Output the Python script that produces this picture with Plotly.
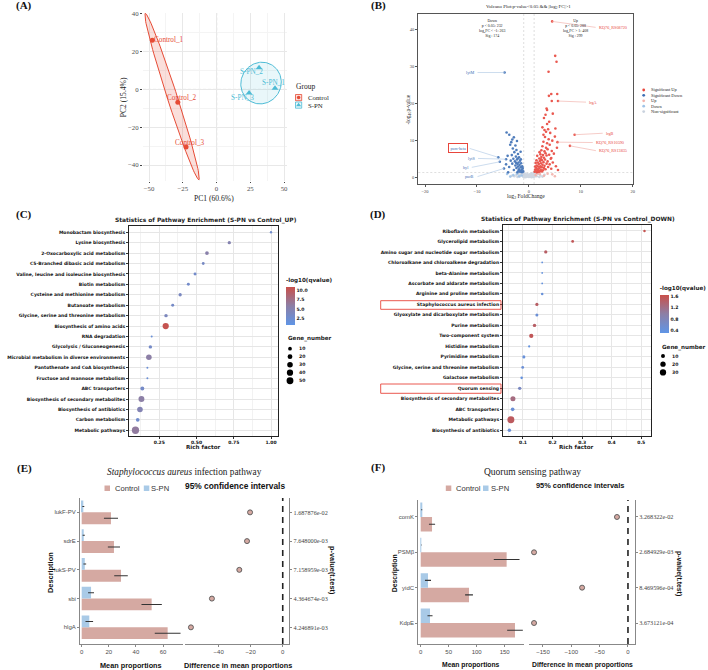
import numpy as np
import plotly.graph_objects as go

W, H = 708, 670
SERIF = "Liberation Serif"
SANS = "Liberation Sans"
DJV = "DejaVu Sans"

# ======================= DATA =======================
# (A) PCA
pca_samples = ["Control_1", "Control_2", "Control_3", "S-PN_1", "S-PN_2", "S-PN_3"]
pca_group = ["Control", "Control", "Control", "S-PN", "S-PN", "S-PN"]
pca_pc1 = [-47.6, -28.7, -22.6, 43.3, 31.5, 24.1]
pca_pc2 = [26.1, -6.8, -30.5, 0.6, 11.5, -1.9]
pca_xticks = [-50, -25, 0, 25, 50]
pca_yticks = [-40, -20, 0, 20, 40]

# (B) Volcano (log2FC, -log10 p)
sig_up_x = [1.1, 1.2, 1.3, 1.4, 1.5, 1.5, 1.6, 1.7, 1.8, 1.8, 1.9, 2.0, 2.0, 2.1, 2.1, 2.2, 2.2, 2.3, 2.3, 2.4,
            2.4, 2.5, 2.5, 2.6, 2.6, 2.7, 2.7, 2.8, 2.8, 2.9, 2.9, 3.0, 3.0, 3.1, 3.1, 3.2, 3.2, 3.3, 3.3, 3.4,
            3.4, 3.5, 3.5, 3.6, 3.6, 3.7, 3.8, 3.9, 4.0, 4.0, 4.1, 4.2, 4.3, 4.4, 4.5, 4.6, 4.8, 5.0, 5.2, 5.4,
            5.6, 5.1, 4.3, 5.5, 7.9, 8.8, 3.4, 3.5, 3.2, 2.9, 4.4, 5.6, 4.3, 5.45, 3.85, 3.78, 5.06, 5.32, 4.48,
            2.6, 3.0, 2.8, 3.9, 4.6, 3.7, 1.3, 1.6, 1.9, 2.2, 2.5, 1.2, 1.45, 1.75, 2.05, 2.35]
sig_up_y = [1.5, 2.1, 1.8, 2.6, 1.4, 3.2, 2.2, 4.0, 1.7, 2.9, 3.6, 2.4, 5.1, 1.6, 4.4, 3.0, 6.2, 2.0, 3.8, 5.5,
            7.3, 2.7, 4.6, 3.4, 8.4, 1.9, 6.0, 4.1, 9.6, 2.5, 5.3, 7.0, 3.1, 10.9, 4.8, 6.5, 2.2, 8.0, 12.3, 3.7,
            5.9, 9.2, 14.4, 4.3, 7.6, 2.8, 10.3, 6.1, 3.5, 8.8, 12.0, 5.0, 2.3, 7.1, 9.9, 4.0, 6.4, 11.0, 3.0, 8.0,
            2.0, 13.2, 5.2, 9.5, 8.5, 11.5, 18.6, 18.2, 16.9, 16.0, 20.6, 20.6, 22.5, 22.5, 22.0, 28.5, 32.8, 31.2, 42.1,
            13.5, 12.8, 11.5, 15.0, 17.2, 13.0, 3.9, 5.8, 1.5, 2.8, 1.6, 2.9, 4.6, 2.0, 6.8, 4.9]
sig_dn_x = [-1.1, -1.2, -1.3, -1.3, -1.4, -1.5, -1.5, -1.6, -1.7, -1.7, -1.8, -1.9, -1.9, -2.0, -2.0, -2.1, -2.1,
            -2.2, -2.3, -2.3, -2.4, -2.4, -2.5, -2.6, -2.6, -2.7, -2.8, -2.9, -2.9, -3.0, -3.1, -3.2, -3.2, -3.3,
            -3.5, -3.6, -3.78, -3.8, -4.0, -4.1, -4.3, -4.4, -5.9, -4.4, -5.6, -4.8, -4.68, -1.6, -2.2, -3.4,
            -1.25, -1.55, -1.85, -2.15, -2.45]
sig_dn_y = [1.6, 2.3, 1.4, 3.0, 2.0, 3.8, 1.7, 2.7, 4.5, 1.5, 3.3, 2.2, 5.4, 4.0, 1.8, 2.9, 6.3,
            3.6, 4.8, 9.8, 2.5, 7.4, 5.6, 3.2, 8.6, 4.3, 6.8, 10.8, 2.0, 5.0, 7.8, 10.2, 3.7, 6.0,
            4.5, 8.8, 11.5, 2.8, 1.35, 5.8, 12.1, 3.5, 5.4, 4.9, 4.2, 2.4, 28.3, 6.9, 1.4, 9.5,
            2.6, 4.9, 1.9, 5.1, 3.9]
up_x = [1.3, 2.1, 2.9, 3.6, 4.5, 5.0, 1.7]
up_y = [0.6, 0.9, 0.4, 1.0, 0.8, 0.3, 1.1]
dn_x = [-1.4, -2.3, -3.0, -3.6, -4.2, -1.9]
dn_y = [0.5, 1.0, 0.6, 0.2, 0.9, 0.3]
ns_x = [-2.8, -2.4, -2.0, -1.8, -1.5, -1.2, -1.0, -0.9, -0.8, -0.7, -0.6, -0.5, -0.4, -0.3, -0.2, -0.1, 0.0,
        0.1, 0.2, 0.3, 0.4, 0.5, 0.6, 0.7, 0.8, 0.9, 1.0, 1.2, 1.5, 1.8, 2.2, 2.6, 3.0, -3.3, 0.5, -0.6, 1.6,
        -1.6, 2.0, -2.2, -0.35, 0.35, -0.75, 0.75, -1.1, 1.1]
ns_y = [0.3, 0.6, 0.9, 0.2, 1.1, 0.5, 0.8, 0.2, 1.0, 0.4, 0.7, 0.1, 0.5, 0.9, 0.3, 0.6, 0.1,
        0.4, 0.8, 0.2, 0.6, 1.0, 0.3, 0.7, 0.1, 1.2, 0.4, 0.8, 0.3, 0.9, 0.5, 0.2, 0.7, 0.4, 0.05, 0.15, 1.1,
        0.7, 0.1, 0.1, 0.25, 0.3, 0.05, 0.5, 0.15, 0.2]
volc_up_genes = ["KQ76_RS08720", "lrgA", "lrgB", "KQ76_RS10590", "KQ76_RS13835"]
volc_up_gx = [4.48, 5.6, 8.8, 5.5, 7.9]
volc_up_gy = [42.1, 20.6, 11.5, 9.5, 8.5]
volc_dn_genes = ["lytM", "psm-beta", "lytS", "hyl", "purB"]
volc_dn_gx = [-4.68, -5.9, -4.4, -5.6, -4.8]
volc_dn_gy = [28.3, 5.4, 4.9, 4.2, 2.4]
volc_xticks = [-20, -10, 0, 10, 20]
volc_yticks = [0, 10, 20, 30, 40]

# (C) KEGG enrichment, UP
c_terms = ["Monobactam biosynthesis", "Lysine biosynthesis", "2-Oxocarboxylic acid metabolism",
           "C5-Branched dibasic acid metabolism", "Valine, leucine and isoleucine biosynthesis",
           "Biotin metabolism", "Cysteine and methionine metabolism", "Butanoate metabolism",
           "Glycine, serine and threonine metabolism", "Biosynthesis of amino acids", "RNA degradation",
           "Glycolysis / Gluconeogenesis", "Microbial metabolism in diverse environments",
           "Pantothenate and CoA biosynthesis", "Fructose and mannose metabolism", "ABC transporters",
           "Biosynthesis of secondary metabolites", "Biosynthesis of antibiotics", "Carbon metabolism",
           "Metabolic pathways"]
c_rich = [1.0, 0.72, 0.57, 0.545, 0.49, 0.445, 0.39, 0.34, 0.295, 0.293, 0.199, 0.19, 0.18, 0.17, 0.17,
          0.136, 0.13, 0.12, 0.105, 0.09]
c_genes = [2, 7, 10, 4, 5, 5, 7, 5, 8, 40, 1, 8, 30, 1, 1, 12, 35, 30, 10, 58]
c_q = [2.8, 5.0, 5.5, 3.5, 3.0, 3.0, 3.8, 3.2, 4.0, 10.5, 2.0, 3.2, 5.8, 2.2, 2.2, 3.2, 5.8, 4.8, 2.8, 6.2]
c_xticks = [0.25, 0.50, 0.75, 1.00]
c_cbar_ticks = [2.5, 5.0, 7.5, 10.0]
c_size_legend = [10, 20, 30, 40, 50]

# (D) KEGG enrichment, DOWN
d_terms = ["Riboflavin metabolism", "Glycerolipid metabolism", "Amino sugar and nucleotide sugar metabolism",
           "Chloroalkane and chloroalkene degradation", "beta-Alanine metabolism",
           "Ascorbate and aldarate metabolism", "Arginine and proline metabolism",
           "Staphylococcus aureus infection", "Glyoxylate and dicarboxylate metabolism", "Purine metabolism",
           "Two-component system", "Histidine metabolism", "Pyrimidine metabolism",
           "Glycine, serine and threonine metabolism", "Galactose metabolism", "Quorum sensing",
           "Biosynthesis of secondary metabolites", "ABC transporters", "Metabolic pathways",
           "Biosynthesis of antibiotics"]
d_rich = [0.511, 0.268, 0.177, 0.165, 0.165, 0.165, 0.165, 0.147, 0.147, 0.139, 0.128, 0.121, 0.103,
          0.099, 0.0955, 0.089, 0.066, 0.065, 0.059, 0.054]
d_genes = [3, 4, 6, 1, 1, 1, 3, 6, 5, 7, 12, 2, 5, 4, 3, 7, 18, 8, 38, 7]
d_q = [1.6, 1.55, 1.45, 0.4, 0.4, 0.4, 0.45, 1.45, 0.5, 1.45, 1.55, 0.4, 0.45, 0.5, 0.4, 0.7, 1.25, 0.5,
       1.5, 0.5]
d_xticks = [0.1, 0.2, 0.3, 0.4, 0.5]
d_cbar_ticks = [0.4, 0.8, 1.2, 1.6]
d_size_legend = [10, 20, 30]

# (E) Staphylococcus aureus infection pathway
e_genes = ["lukF-PV", "sdrE", "lukS-PV", "sbi", "hlgA"]
e_ctrl = [21.6, 23.8, 29.0, 51.6, 63.4]
e_ctrl_err = [5.2, 4.5, 5.0, 7.5, 9.5]
e_spn = [1.2, 1.5, 2.3, 6.9, 5.6]
e_spn_err = [0.7, 0.8, 1.0, 2.2, 2.8]
e_diff = [-20.4, -22.3, -27.1, -44.2, -57.3]
e_p = ["1.687876e-02", "7.648000e-03", "7.158959e-03", "4.364674e-03", "4.246891e-03"]
e_xticks = [0, 20, 40, 60]
e_dticks = [-40, -20, 0]

# (F) Quorum sensing pathway
f_genes = ["comK", "PSMβ", "yidC", "KdpE"]
f_ctrl = [20.2, 153.5, 86.3, 168.4]
f_ctrl_err = [5.5, 23.0, 7.0, 14.0]
f_spn = [1.8, 1.0, 13.0, 16.6]
f_spn_err = [1.0, 0.5, 5.4, 4.5]
f_diff = [-19.4, -165.8, -81.0, -165.8]
f_p = ["3.268322e-02", "2.684929e-03", "8.469596e-04", "3.673121e-04"]
f_xticks = [0, 50, 100, 150]
f_dticks = [-150, -100, -50, 0]

# ======================= STYLE HELPERS =======================
RED = "#E64B35"
BLUE = "#4DBBD5"
CTRL_BAR = "#D5A9A2"
SPN_BAR = "#A9CAE7"
CSCALE = [[0, "#5F95E6"], [0.5, "#8C7FA6"], [1, "#C9504A"]]


def px(x):
    return x / W


def py(y):
    return 1 - y / H


def base_axis(**kw):
    d = dict(automargin=False, showgrid=False, zeroline=False, showline=False, ticks="",
             fixedrange=True)
    d.update(kw)
    return d


def ellipse(xs, ys, k=1.55, n=120):
    X = np.column_stack([xs, ys])
    mu = X.mean(axis=0)
    vals, vecs = np.linalg.eigh(np.cov(X.T))
    t = np.linspace(0, 2 * np.pi, n)
    circ = np.column_stack([np.cos(t), np.sin(t)]) * (k * np.sqrt(np.maximum(vals, 0)))
    pts = mu + circ @ vecs.T
    return pts[:, 0], pts[:, 1]


def size_c(g):
    return 1.2 + 0.8 * np.sqrt(g)


def size_d(g):
    return 0.8 + 1.0 * np.sqrt(g)


fig = go.Figure()
ann = []
shapes = []


def text(x, y, s, size, family=SANS, color="#000", xanchor="center", yanchor="middle", angle=0, bold=False):
    ann.append(dict(x=px(x), y=py(y), xref="paper", yref="paper", text=s, showarrow=False,
                    xanchor=xanchor, yanchor=yanchor, textangle=angle,
                    font=dict(family=family, size=size, color=color, weight="bold" if bold else "normal")))


# ======================= (A) PCA =======================
for grp, col, fill in [("Control", RED, "rgba(230,75,53,0.18)"), ("S-PN", BLUE, "rgba(77,187,213,0.12)")]:
    xs = [x for x, g in zip(pca_pc1, pca_group) if g == grp]
    ys = [y for y, g in zip(pca_pc2, pca_group) if g == grp]
    ex, ey = ellipse(xs, ys)
    fig.add_trace(go.Scatter(x=ex, y=ey, mode="lines", fill="toself", fillcolor=fill,
                             line=dict(color=col, width=1), xaxis="x", yaxis="y", showlegend=False,
                             hoverinfo="skip"))
    fig.add_trace(go.Scatter(x=xs, y=ys, mode="markers", xaxis="x", yaxis="y", showlegend=False,
                             marker=dict(color=col, size=5 if grp == "Control" else 6,
                                         symbol="circle" if grp == "Control" else "triangle-up")))

label_shift = [(16.6, 0), (4.3, 4.3), (4.0, 3.7), (-1.8, 5), (-7.1, -4.3), (-6.6, -5)]
for s, x, y, g, (dx, dy) in zip(pca_samples, pca_pc1, pca_pc2, pca_group, label_shift):
    ann.append(dict(x=x, y=y, xref="x", yref="y", text=s, showarrow=False, xshift=dx, yshift=dy,
                    font=dict(family=SERIF, size=7.2, color=RED if g == "Control" else BLUE)))

shapes += [
    dict(type="line", xref="x", yref="y domain", x0=0, x1=0, y0=0, y1=1,
         line=dict(color="#444", width=0.8, dash="3px,2px"), layer="below"),
    dict(type="line", xref="x domain", yref="y", x0=0, x1=1, y0=0, y1=0,
         line=dict(color="#444", width=0.8, dash="3px,2px"), layer="below"),
]
a_tick = dict(family=SERIF, size=6.8, color="#4D4D4D")
xa = base_axis(domain=[px(143), px(287)], range=[-54.5, 52.2], tickvals=pca_xticks, anchor="y",
               showgrid=True, gridcolor="#E8E8E8", gridwidth=0.7,
               minor=dict(dtick=12.5, tick0=0, showgrid=True, gridcolor="#F4F4F4", gridwidth=0.5),
               ticks="outside", ticklen=1, tickcolor="#444", tickfont=a_tick)
ya = base_axis(domain=[py(180.5), py(13)], range=[-48.2, 40.5], tickvals=pca_yticks, anchor="x",
               showgrid=True, gridcolor="#E8E8E8", gridwidth=0.7,
               minor=dict(dtick=10, tick0=0, showgrid=True, gridcolor="#F4F4F4", gridwidth=0.5),
               ticks="outside", ticklen=2, tickcolor="#444", tickfont=a_tick)
text(214.3, 198.5, "PC1 (60.6%)", 7.6, SERIF, "#222")
text(123.5, 96.7, "PC2 (15.4%)", 7.6, SERIF, "#222", angle=-90)
# legend A
text(294, 86.7, "Group", 7.5, SERIF, "#222", xanchor="left")
shapes += [
    dict(type="rect", xref="paper", yref="paper", x0=px(295.5), x1=px(301.7), y0=py(100.7), y1=py(94.5),
         line=dict(color=RED, width=0.8), fillcolor="rgba(230,75,53,0.18)"),
    dict(type="rect", xref="paper", yref="paper", x0=px(295.5), x1=px(301.7), y0=py(108.2), y1=py(102),
         line=dict(color=BLUE, width=0.8), fillcolor="rgba(77,187,213,0.12)"),
]
text(306, 97.6, "Control", 6.8, SERIF, "#222", xanchor="left")
text(306, 105.1, "S-PN", 6.8, SERIF, "#222", xanchor="left")

# ======================= (B) Volcano =======================
volc_groups = [
    ("Non-significant", ns_x, ns_y, "#C9D2DE"),
    ("Up", up_x, up_y, "#F2B3AC"),
    ("Down", dn_x, dn_y, "#9FC3E7"),
    ("Significant Down", sig_dn_x, sig_dn_y, "#3D6FB5"),
    ("Significant Up", sig_up_x, sig_up_y, "#E8463C"),
]
for name, xs, ys, col in volc_groups:
    fig.add_trace(go.Scatter(x=xs, y=ys, mode="markers", xaxis="x2", yaxis="y2", showlegend=False,
                             marker=dict(color=col, size=2.6, line=dict(width=0)), opacity=0.9))
shapes += [
    dict(type="line", xref="x2", yref="y2 domain", x0=-1, x1=-1, y0=0, y1=1,
         line=dict(color="#C8C8C8", width=0.6, dash="2px,2px"), layer="below"),
    dict(type="line", xref="x2", yref="y2 domain", x0=1, x1=1, y0=0, y1=1,
         line=dict(color="#C8C8C8", width=0.6, dash="2px,2px"), layer="below"),
    dict(type="line", xref="x2 domain", yref="y2", x0=0, x1=1, y0=1.3, y1=1.3,
         line=dict(color="#C8C8C8", width=0.6, dash="2px,2px"), layer="below"),
]
# label anchor (edge of label nearest the point) in data units
up_label_pos = [(12.85, 40.5), (11.0, 20.3), (14.2, 11.9), (12.3, 9.4), (12.9, 7.2)]
dn_label_pos = [(-9.9, 28.3), (-11.4, 7.8), (-9.8, 5.1), (-11.0, 2.7), (-9.9, 0.2)]
for genes, gx, gy, pos, col, lcol, anchor in [
        (volc_up_genes, volc_up_gx, volc_up_gy, up_label_pos, "#E8463C", "#F0A9A3", "left"),
        (volc_dn_genes, volc_dn_gx, volc_dn_gy, dn_label_pos, "#3D6FB5", "#A9C4E2", "right")]:
    for g, x, y, (lx, ly) in zip(genes, gx, gy, pos):
        shapes.append(dict(type="line", xref="x2", yref="y2", x0=x, y0=y, x1=lx, y1=ly,
                           line=dict(color=lcol, width=0.6)))
        d = dict(x=lx, y=ly, xref="x2", yref="y2", text=g, showarrow=False, xanchor=anchor,
                 xshift=1 if anchor == "left" else -1,
                 font=dict(family=SERIF, size=4.2, color=col))
        if g == "psm-beta":
            d.update(bordercolor="#E8463C", borderwidth=1, borderpad=1.5, xshift=-2)
        ann.append(d)
b_tick = dict(family=SERIF, size=4.5, color="#444")
xb = base_axis(domain=[px(418.3), px(633.3)], range=[-21.3, 20.1], tickvals=volc_xticks, anchor="y2",
               showline=True, mirror=True, linecolor="#555", linewidth=1.4, ticks="outside", ticklen=2,
               tickcolor="#555", tickfont=b_tick)
yb = base_axis(domain=[py(184), py(14)], range=[-1.8, 44.1], tickvals=volc_yticks, anchor="x2",
               showline=True, mirror=True, linecolor="#555", linewidth=1.4, ticks="outside", ticklen=2,
               tickcolor="#555", tickfont=b_tick)
text(528.7, 7.3, "Volcano Plot:p-value&lt;0.05 &amp;&amp; |log<sub>2</sub> FC|&gt;1", 4.9, SERIF, "#222")
text(526.3, 196.5, "log<sub>2</sub> FoldChange", 5.6, SERIF, "#222")
text(407.5, 110, "-log<sub>10</sub>p-value", 5.6, SERIF, "#222", angle=-90)
text(477, 17, "Down<br>p &lt; 0.05: 232<br>log<sub>2</sub>FC &lt; -1: 263<br>Sig : 174", 3.9, SERIF, "#222",
     xanchor="left", yanchor="top")
text(560.7, 17, "Up<br>p &lt; 0.05: 288<br>log<sub>2</sub>FC &gt; 1: 408<br>Sig : 299", 3.9, SERIF, "#222",
     xanchor="left", yanchor="top")
# legend B (manual)
b_leg_y = [90, 95.3, 100.8, 106.2, 111.6]
for (name, col), yy in zip([("Significant Up", "#E8463C"), ("Significant Down", "#3D6FB5"),
                            ("Up", "#F2B3AC"), ("Down", "#9FC3E7"), ("Non-significant", "#C9D2DE")], b_leg_y):
    fig.add_trace(go.Scatter(x=[643.7], y=[yy], mode="markers", xaxis="x9", yaxis="y9", showlegend=False,
                             marker=dict(color=col, size=2.8), hoverinfo="skip"))
    text(648.5, yy, name, 4.4, SERIF, "#222", xanchor="left")

# ======================= (C) enrichment UP =======================
fig.add_trace(go.Scatter(x=c_rich, y=c_terms, mode="markers", xaxis="x3", yaxis="y3", showlegend=False,
                         marker=dict(size=[size_c(g) for g in c_genes], color=c_q, coloraxis="coloraxis",
                                     line=dict(width=0), opacity=1)))
cd_tick = dict(family=DJV, size=4.5, color="#111", weight="bold")
xc = base_axis(domain=[px(129), px(277.7)], range=[0.0465, 1.045], tickvals=c_xticks,
               ticktext=["0.25", "0.50", "0.75", "1.00"], anchor="y3", showgrid=True, gridcolor="#E6E6E6",
               gridwidth=0.6, minor=dict(dtick=0.125, tick0=0, showgrid=True, gridcolor="#F2F2F2", gridwidth=0.4),
               showline=True, mirror=True, linecolor="#222", linewidth=1, ticks="outside", ticklen=2,
               tickcolor="#333", tickfont=cd_tick)
yc = base_axis(domain=[py(436), py(226)], type="category", categoryarray=c_terms[::-1],
               range=[-0.55, 19.6], anchor="x3", showgrid=True, gridcolor="#E6E6E6", gridwidth=0.6,
               showline=True, mirror=True, linecolor="#222", linewidth=1, ticks="outside", ticklen=2,
               tickcolor="#333", tickfont=cd_tick)
text(206, 220, "Statistics of Pathway Enrichment (S-PN vs Control_UP)", 5.9, DJV, "#222", bold=True)
text(203.3, 447.3, "Rich factor", 5.6, DJV, "#222", bold=True)
text(286, 339, "Gene_number", 5.6, DJV, "#222", xanchor="left", bold=True)
c_leg_y = [348.7, 356.7, 364.7, 372.7, 380.8]
for g, yy in zip(c_size_legend, c_leg_y):
    fig.add_trace(go.Scatter(x=[290], y=[yy], mode="markers", xaxis="x9", yaxis="y9", showlegend=False,
                             marker=dict(color="#000", size=size_c(g)), hoverinfo="skip"))
    text(297, yy, str(g), 4.6, DJV, "#222", xanchor="left", bold=True)

# ======================= (D) enrichment DOWN =======================
fig.add_trace(go.Scatter(x=d_rich, y=d_terms, mode="markers", xaxis="x4", yaxis="y4", showlegend=False,
                         marker=dict(size=[size_d(g) for g in d_genes], color=d_q, coloraxis="coloraxis2",
                                     line=dict(width=0), opacity=1)))
xd = base_axis(domain=[px(503), px(650.7)], range=[0.0324, 0.532], tickvals=d_xticks, anchor="y4",
               showgrid=True, gridcolor="#E6E6E6", gridwidth=0.6,
               minor=dict(dtick=0.05, tick0=0, showgrid=True, gridcolor="#F2F2F2", gridwidth=0.4),
               showline=True, mirror=True, linecolor="#222", linewidth=1, ticks="outside", ticklen=2,
               tickcolor="#333", tickfont=cd_tick)
yd = base_axis(domain=[py(436), py(225.3)], type="category", categoryarray=d_terms[::-1],
               range=[-0.54, 19.54], anchor="x4", showgrid=True, gridcolor="#E6E6E6", gridwidth=0.6,
               showline=True, mirror=True, linecolor="#222", linewidth=1, ticks="outside", ticklen=2,
               tickcolor="#333", tickfont=cd_tick)
text(578, 219, "Statistics of Pathway Enrichment (S-PN vs Control_DOWN)", 5.9, DJV, "#222", bold=True)
text(576.7, 447.3, "Rich factor", 5.6, DJV, "#222", bold=True)
text(659.7, 347, "Gene_number", 5.6, DJV, "#222", xanchor="left", bold=True)
d_leg_y = [356, 364.2, 372.4]
for g, yy in zip(d_size_legend, d_leg_y):
    fig.add_trace(go.Scatter(x=[663], y=[yy], mode="markers", xaxis="x9", yaxis="y9", showlegend=False,
                             marker=dict(color="#000", size=size_d(g)), hoverinfo="skip"))
    text(670, yy, str(g), 4.6, DJV, "#222", xanchor="left", bold=True)
shapes += [
    dict(type="rect", xref="paper", yref="paper", x0=px(380.7), x1=px(501), y0=py(309.3), y1=py(300.7),
         line=dict(color="#E8463C", width=0.9)),
    dict(type="rect", xref="paper", yref="paper", x0=px(380.7), x1=px(501), y0=py(393.3), y1=py(384),
         line=dict(color="#E8463C", width=0.9)),
]


def cbar(x, ycenter, ticks, fmt):
    return dict(x=px(x), xanchor="left", xref="paper", y=py(ycenter), yanchor="middle", yref="paper",
                len=50, lenmode="pixels", thickness=8.5, thicknessmode="pixels", outlinewidth=0,
                xpad=0, ypad=0, tickvals=ticks, ticktext=[fmt.format(t) for t in ticks], ticks="",
                tickfont=dict(family=DJV, size=4.6, color="#222", weight="bold"),
                title=dict(text="-log10(qvalue)", side="top",
                           font=dict(family=DJV, size=5.6, color="#222", weight="bold")))


# ======================= (E) / (F) bar + difference panels =======================
ef_tick = dict(family=SANS, size=6, color="#4D4D4D")
p_tick = dict(family=SERIF, size=6.2, color="#444")


def bar_panel(xn, yn, xdn, ydn, genes, ctrl, ctrl_err, spn, spn_err, diff, pvals,
              xdom, xrange, xticks, ddom, drange, dticks, ydom, yrange):
    fig.add_trace(go.Bar(y=genes, x=ctrl, orientation="h", xaxis=xn, yaxis=yn, showlegend=False,
                         marker=dict(color=CTRL_BAR, line=dict(width=0)),
                         error_x=dict(type="data", array=ctrl_err, color="#333", thickness=1.1, width=0)))
    fig.add_trace(go.Bar(y=genes, x=spn, orientation="h", xaxis=xn, yaxis=yn, showlegend=False,
                         marker=dict(color=SPN_BAR, line=dict(width=0)),
                         error_x=dict(type="data", array=spn_err, color="#333", thickness=1.1, width=0)))
    fig.add_trace(go.Scatter(x=diff, y=genes, mode="markers", xaxis=xdn, yaxis=ydn, showlegend=False,
                             marker=dict(color=CTRL_BAR, size=5, line=dict(color="#555", width=0.9))))
    xbar = base_axis(domain=xdom, range=xrange, tickvals=xticks, anchor=yn,
                     showline=True, linecolor="#888", linewidth=1, ticks="outside", ticklen=2,
                     tickcolor="#888", tickfont=ef_tick)
    ybar = base_axis(domain=ydom, type="category", categoryarray=genes[::-1], range=yrange, anchor=xn,
                     showline=True, linecolor="#888", linewidth=1, ticks="outside", ticklen=2,
                     tickcolor="#888", tickfont=ef_tick)
    xdif = base_axis(domain=ddom, range=drange, tickvals=dticks, anchor=ydn, showline=True, linecolor="#888",
                     linewidth=1, ticks="outside", ticklen=2, tickcolor="#888", tickfont=ef_tick)
    ydif = base_axis(domain=ydom, type="category", categoryarray=genes[::-1], range=yrange, side="right",
                     anchor=xdn, tickvals=genes, ticktext=pvals, showline=True, linecolor="#888", linewidth=1,
                     ticks="outside", ticklen=2, tickcolor="#888", tickfont=p_tick)
    shapes.append(dict(type="line", xref=xdn, yref=ydn + " domain", x0=0, x1=0, y0=0, y1=1,
                       line=dict(color="#222", width=1.6, dash="6px,5px")))
    return xbar, ybar, xdif, ydif


xe, ye, xed, yed = bar_panel("x5", "y5", "x6", "y6", e_genes, e_ctrl, e_ctrl_err, e_spn, e_spn_err, e_diff, e_p,
                             [px(80), px(182.7)], [-1.25, 74.5], e_xticks,
                             [px(185), px(289.3)], [-61, 4.1], e_dticks,
                             [py(644), py(498)], [-0.58, 4.5])
xf, yf, xfd, yfd = bar_panel("x7", "y7", "x8", "y8", f_genes, f_ctrl, f_ctrl_err, f_spn, f_spn_err, f_diff, f_p,
                             [px(418.3), px(524)], [-4.3, 184.5], f_xticks,
                             [px(529), px(635)], [-174.7, 12.4], f_dticks,
                             [py(644), py(500)], [-0.594, 3.48])

# titles / legends for E
text(184, 472.3, "<i>Staphylococcus aureus</i> infection pathway", 9.3, SERIF, "#222")
text(235.3, 485.7, "95% confidence intervals", 8.4, SANS, "#111", bold=True)
text(50, 573, "Description", 7.4, SANS, "#111", angle=-90, bold=True)
text(333, 570, "p-value(t.test)", 7.4, SANS, "#111", angle=90, bold=True)
text(131.3, 665, "Mean proportions", 7.3, SANS, "#111", bold=True)
text(238, 665, "Difference in mean proportions", 7.3, SANS, "#111", bold=True)
# titles / legends for F
text(532.3, 472, "Quorum sensing pathway", 9.5, SERIF, "#222")
text(579.5, 485.7, "95% confidence intervals", 7.4, SANS, "#111", bold=True)
text(395.3, 573, "Description", 6.9, SANS, "#111", angle=-90, bold=True)
text(679, 573, "p-value(t.test)", 6.9, SANS, "#111", angle=90, bold=True)
text(471.3, 665, "Mean proportions", 6.8, SANS, "#111", bold=True)
text(582.3, 665, "Difference in mean proportions", 6.8, SANS, "#111", bold=True)

for kx, tx_c, kx2, tx_s in [(104.5, 112.5, 143.8, 149.3), (445.8, 454.5, 483, 489)]:
    shapes += [
        dict(type="rect", xref="paper", yref="paper", x0=px(kx), x1=px(kx + 5.5), y0=py(491), y1=py(485.5),
             line=dict(width=0), fillcolor=CTRL_BAR),
        dict(type="rect", xref="paper", yref="paper", x0=px(kx2), x1=px(kx2 + 5.5), y0=py(491), y1=py(485.5),
             line=dict(width=0), fillcolor=SPN_BAR),
    ]
    text(tx_c, 488.3, "Control", 7.6, SANS, "#333", xanchor="left")
    text(tx_s, 488.3, "S-PN", 7.6, SANS, "#333", xanchor="left")

# panel letters
for lab, x, y in [("(A)", 24.2, 6), ("(B)", 378.5, 6), ("(C)", 24, 214.7), ("(D)", 378, 215),
                  ("(E)", 24, 468), ("(F)", 378, 467)]:
    text(x, y, lab, 11, SERIF, "#111", bold=True)

# overlay pixel axis for legend keys
x9 = dict(domain=[0, 1], range=[0, W], visible=False, fixedrange=True, anchor="y9")
y9 = dict(domain=[0, 1], range=[H, 0], visible=False, fixedrange=True, anchor="x9")
for xx, yy, col, sym, sz in [(298.6, 97.6, RED, "circle", 3.5), (298.6, 105.1, BLUE, "triangle-up", 4.5)]:
    fig.add_trace(go.Scatter(x=[xx], y=[yy], mode="markers", xaxis="x9", yaxis="y9", showlegend=False,
                             marker=dict(color=col, size=sz, symbol=sym), hoverinfo="skip"))

fig.update_layout(
    width=W, height=H, margin=dict(l=0, r=0, t=0, b=0), template="none",
    paper_bgcolor="white", plot_bgcolor="rgba(0,0,0,0)", showlegend=False,
    barmode="group", bargap=0.18, bargroupgap=0.0,
    xaxis=xa, yaxis=ya, xaxis2=xb, yaxis2=yb, xaxis3=xc, yaxis3=yc, xaxis4=xd, yaxis4=yd,
    xaxis5=xe, yaxis5=ye, xaxis6=xed, yaxis6=yed, xaxis7=xf, yaxis7=yf, xaxis8=xfd, yaxis8=yfd,
    xaxis9=x9, yaxis9=y9,
    coloraxis=dict(colorscale=CSCALE, cmin=0.8, cmax=10.8, colorbar=cbar(286, 300, c_cbar_ticks, "{:.1f}")),
    coloraxis2=dict(colorscale=CSCALE, cmin=0.32, cmax=1.64, colorbar=cbar(659.7, 308, d_cbar_ticks, "{:.1f}")),
    annotations=ann, shapes=shapes,
)
fig.write_html("out.html")
